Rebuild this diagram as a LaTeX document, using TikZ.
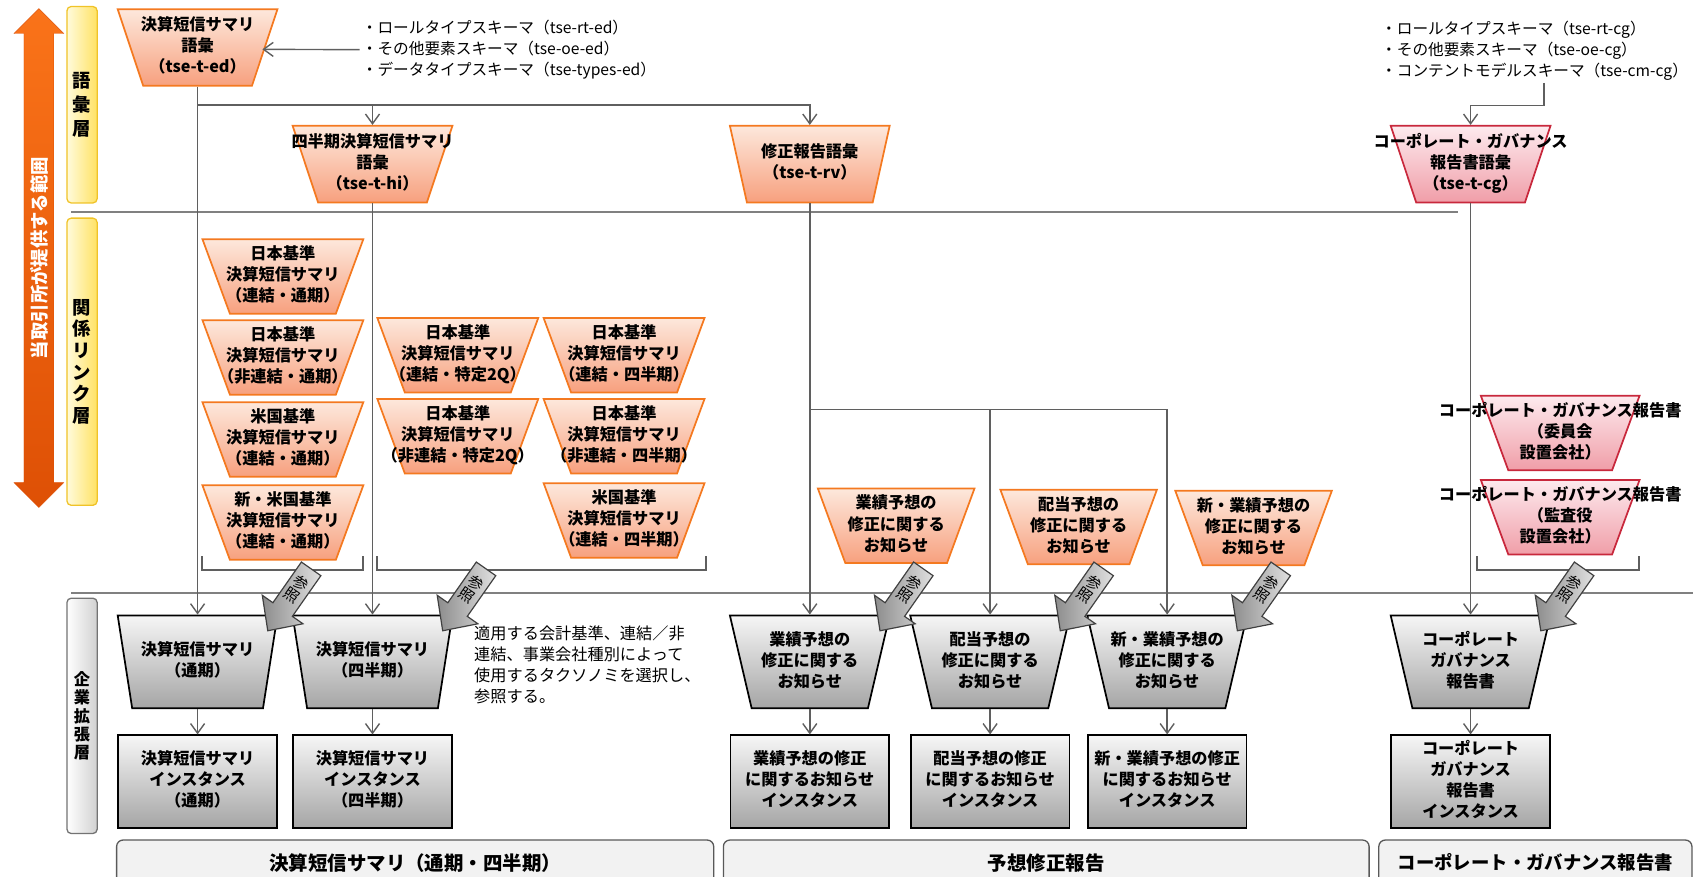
\documentclass[tikz,border=0pt]{standalone}
\usepackage{fontspec}
\setmainfont{Noto Sans CJK JP}
\usepackage{tikz}
\usetikzlibrary{arrows.meta}
\usetikzlibrary{calc}
\usetikzlibrary{shapes.geometric, shapes.arrows}

\definecolor{tseOrange}{RGB}{244,121,32}
\definecolor{tsePeach}{RGB}{253,232,220}
\definecolor{tseSalmon}{RGB}{247,160,126}
\definecolor{cgRed}{RGB}{200,40,60}
\definecolor{cgLight}{RGB}{253,234,238}
\definecolor{cgPink}{RGB}{240,158,168}
\definecolor{lineGray}{RGB}{95,95,95}
\definecolor{sepGray}{RGB}{128,128,128}
\definecolor{entLight}{RGB}{246,246,246}
\definecolor{entDark}{RGB}{165,165,165}
\definecolor{layYellow}{RGB}{255,226,100}
\definecolor{layLight}{RGB}{255,251,220}
\definecolor{layBorder}{RGB}{240,195,40}
\definecolor{rangeOrange}{RGB}{222,80,5}
\definecolor{rangeLight}{RGB}{250,115,25}

\newcommand{\trapfont}{\bfseries\fontsize{15}{19.5}\selectfont}
\newcommand{\celltext}[1]{\makebox[0pt]{\begin{tabular}{@{}c@{}}#1\end{tabular}}}

\tikzstyle{trap} = [trapezium, shape border rotate=180, trapezium stretches body=true,
	inner sep=0pt, line width=1.6pt, font=\trapfont]
\tikzstyle{vocab} = [trap, trapezium angle=68, minimum width=148, minimum height=71,
	draw=tseOrange, top color=tsePeach, bottom color=tseSalmon]
\tikzstyle{vocabcg} = [vocab, draw=cgRed, top color=cgLight, bottom color=cgPink]
\tikzstyle{rel} = [trap, trapezium angle=66.5, minimum width=149, minimum height=69,
	draw=tseOrange, top color=tsePeach, bottom color=tseSalmon]
\tikzstyle{relcg} = [rel, minimum width=147, draw=cgRed, top color=cgLight, bottom color=cgPink]
\tikzstyle{ent} = [trap, trapezium angle=71, minimum width=148, minimum height=86,
	draw=black, top color=entLight, bottom color=entDark]
\tikzstyle{inst} = [rectangle, inner sep=0pt, minimum width=147, minimum height=86,
	draw=black, line width=1.6pt, top color=entLight, bottom color=entDark, font=\trapfont]
\tikzstyle{layer} = [rectangle, rounded corners=4pt, draw=layBorder, line width=1.2pt,
	left color=layLight, right color=layYellow, minimum width=28, inner sep=0pt,
	align=center]
\tikzstyle{layerent} = [layer, draw=black!55, left color=white, right color=black!18]
\tikzstyle{scopeArrow} = [double arrow, rotate=90, double arrow head extend=9pt,
	minimum height=462, minimum width=46, inner sep=5pt, draw=rangeOrange,
	top color=rangeLight, bottom color=rangeOrange, text=white,
	font=\bfseries\fontsize{17}{17}\selectfont]
\tikzstyle{conn} = [draw=lineGray, line width=1.3pt, -{Straight Barb[length=9pt, width=13pt]}]
\tikzstyle{layerline} = [draw=sepGray, line width=2pt]
\tikzstyle{grpbracket} = [draw=lineGray, line width=1.5pt]
\tikzstyle{refbody} = [draw=black!75, line width=1.1pt, left color=black!45, right color=black!12]
\tikzstyle{reftext} = [rotate=-35, inner sep=0pt, align=center, font=\fontsize{14}{14.5}\selectfont]
\tikzstyle{schema} = [anchor=west, align=left, inner sep=2pt, font=\fontsize{14.5}{19.5}\selectfont]
\tikzstyle{note} = [anchor=north west, align=left, inner sep=0pt, font=\fontsize{15}{19.5}\selectfont]
\tikzstyle{groupbar} = [rectangle, rounded corners=6pt, draw=black!65, line width=1.2pt,
	fill=black!5, minimum height=42, inner sep=0pt]

\newcommand{\drawref}[2]{%
	\begin{scope}[shift={#2}, rotate=55]
		\draw[refbody] (0,0) -- (24,23) -- (24,11) -- (70,11) -- (70,-11) -- (24,-11) -- (24,-23) -- cycle;
		\node[reftext] (#1) at (47,0) {参\\照};
	\end{scope}}

\begin{document}
\begin{tikzpicture}[x=1pt, y=-1pt]
	\useasboundingbox (0,0) rectangle (1568,812);
	
	\draw[layerline] (66,196) -- (1350,196);
	\draw[layerline] (66,549) -- (1568,549);
	
	\node[scopeArrow] (range) at (36,239) {当取引所が提供する範囲};
	\node[layer, minimum height=182, font=\bfseries\fontsize{17}{22.5}\selectfont] (lyVocab) at (76,97) {語\\彙\\層};
	\node[layer, minimum height=266, font=\bfseries\fontsize{17}{20}\selectfont] (lyLink) at (76,335) {関\\係\\リ\\ン\\ク\\層};
	\node[layerent, minimum height=218, font=\bfseries\fontsize{15}{17}\selectfont] (lyEnt) at (76,663) {企\\業\\拡\\張\\層};
	
	% vocabulary layer
	\node[vocab] (T1) at (183,44) {\celltext{決算短信サマリ\\語彙\\（tse-t-ed）}};
	\node[schema] (edList) at (333,46) {・ロールタイプスキーマ（tse-rt-ed）\\・その他要素スキーマ（tse-oe-ed）\\・データタイプスキーマ（tse-types-ed）};
	\node[vocab] (T2) at (345,152) {\celltext{四半期決算短信サマリ\\語彙\\（tse-t-hi）}};
	\node[vocab] (T3) at (750,152) {\celltext{修正報告語彙\\（tse-t-rv）}};
	\node[vocabcg] (T4) at (1362,152) {\celltext{コーポレート・ガバナンス\\報告書語彙\\（tse-t-cg）}};
	\node[schema] (cgList) at (1277,47) {・ロールタイプスキーマ（tse-rt-cg）\\・その他要素スキーマ（tse-oe-cg）\\・コンテントモデルスキーマ（tse-cm-cg）};
	
	% relation link layer
	\node[rel] (rA1) at (262,256) {\celltext{日本基準\\決算短信サマリ\\（連結・通期）}};
	\node[rel] (rA2) at (262,331) {\celltext{日本基準\\決算短信サマリ\\（非連結・通期）}};
	\node[rel] (rA3) at (262,407) {\celltext{米国基準\\決算短信サマリ\\（連結・通期）}};
	\node[rel] (rA4) at (262,484) {\celltext{新・米国基準\\決算短信サマリ\\（連結・通期）}};
	\node[rel] (rB1) at (424,329) {\celltext{日本基準\\決算短信サマリ\\（連結・特定2Q）}};
	\node[rel] (rB2) at (424,404) {\celltext{日本基準\\決算短信サマリ\\（非連結・特定2Q）}};
	\node[rel] (rC1) at (578,329) {\celltext{日本基準\\決算短信サマリ\\（連結・四半期）}};
	\node[rel] (rC2) at (578,404) {\celltext{日本基準\\決算短信サマリ\\（非連結・四半期）}};
	\node[rel] (rC3) at (578,482) {\celltext{米国基準\\決算短信サマリ\\（連結・四半期）}};
	\node[rel, minimum width=145] (rF1) at (830,487) {\celltext{業績予想の\\修正に関する\\お知らせ}};
	\node[rel, minimum width=145] (rF2) at (999,488) {\celltext{配当予想の\\修正に関する\\お知らせ}};
	\node[rel, minimum width=145] (rF3) at (1161,489) {\celltext{新・業績予想の\\修正に関する\\お知らせ}};
	\node[relcg] (rG1) at (1445,401) {\celltext{コーポレート・ガバナンス報告書\\（委員会\\設置会社）}};
	\node[relcg] (rG2) at (1445,479) {\celltext{コーポレート・ガバナンス報告書\\（監査役\\設置会社）}};
	
	\draw[grpbracket] (187,515) |- (336,528) -- (336,515);
	\draw[grpbracket] (349,515) |- (654,528) -- (654,515);
	\draw[grpbracket] (1368,515) |- (1518,528) -- (1518,515);
	
	% company extension layer
	\node[ent] (eA) at (183,613) {\celltext{決算短信サマリ\\（通期）}};
	\node[ent] (eB) at (345,613) {\celltext{決算短信サマリ\\（四半期）}};
	\node[ent] (eF1) at (750,613) {\celltext{業績予想の\\修正に関する\\お知らせ}};
	\node[ent] (eF2) at (917,613) {\celltext{配当予想の\\修正に関する\\お知らせ}};
	\node[ent] (eF3) at (1081,613) {\celltext{新・業績予想の\\修正に関する\\お知らせ}};
	\node[ent] (eG) at (1362,613) {\celltext{コーポレート\\ガバナンス\\報告書}};
	
	\node[inst] (iA) at (183,724) {\celltext{決算短信サマリ\\インスタンス\\（通期）}};
	\node[inst] (iB) at (345,724) {\celltext{決算短信サマリ\\インスタンス\\（四半期）}};
	\node[inst] (iF1) at (750,724) {\celltext{業績予想の修正\\に関するお知らせ\\インスタンス}};
	\node[inst] (iF2) at (917,724) {\celltext{配当予想の修正\\に関するお知らせ\\インスタンス}};
	\node[inst] (iF3) at (1081,724) {\celltext{新・業績予想の修正\\に関するお知らせ\\インスタンス}};
	\node[inst] (iG) at (1362,724) {\celltext{コーポレート\\ガバナンス\\報告書\\インスタンス}};
	
	\node[note] (choice) at (439,579) {適用する会計基準、連結／非\\連結、事業会社種別によって\\使用するタクソノミを選択し、\\参照する。};
	
	% connectors
	\draw[conn] (edList.west) -- ($(T1.north)+(60,38)$);
	\draw[conn] (T1.south) -- (eA.north);
	\coordinate (vocabFork) at ($(T1.south)+(0,17)$);
	\draw[conn] (vocabFork) -| (T3.north);
	\draw[conn] (vocabFork -| T2.north) -- (T2.north);
	\draw[conn] (T2.south) -- (eB.north);
	\draw[conn] (T3.south) -- (eF1.north);
	\coordinate (fcFork) at ($(T3.south)+(0,191)$);
	\draw[conn] (fcFork) -| (eF3.north);
	\draw[conn] (fcFork -| eF2.north) -- (eF2.north);
	\coordinate (cgDrop) at ($(T4.north)+(68,-18)$);
	\draw[conn] (cgList.south -| cgDrop) -- (cgDrop) -| (T4.north);
	\draw[conn] (T4.south) -- (eG.north);
	\foreach \e/\i in {eA/iA, eB/iB, eF1/iF1, eF2/iF2, eF3/iF3, eG/iG}
		\draw[conn] (\e.south) -- (\i.north);
	
	\foreach \e in {eA, eB, eF1, eF2, eF3, eG}
		\drawref{ref-\e}{($(\e.north)+(65,15)$)};
	
	% groups
	\node[groupbar, minimum width=553, font=\bfseries\fontsize{18}{18}\selectfont] (barSum) at (384.5,799) {決算短信サマリ（通期・四半期）};
	\node[groupbar, minimum width=598, font=\bfseries\fontsize{18}{18}\selectfont] (barFc) at (969,799) {予想修正報告};
	\node[groupbar, minimum width=290, font=\bfseries\fontsize{17}{17}\selectfont] (barCg) at (1422,799) {コーポレート・ガバナンス報告書};
	
\end{tikzpicture}
\end{document}
